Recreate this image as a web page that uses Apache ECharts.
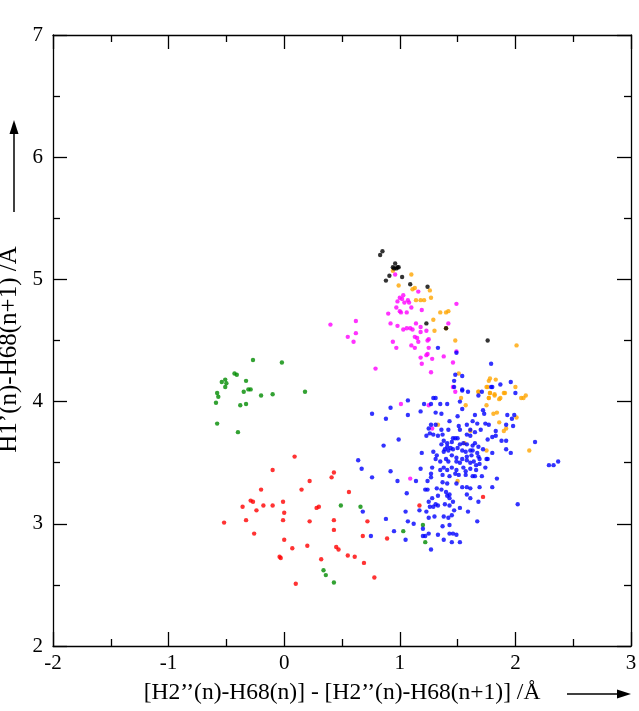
<!DOCTYPE html>
<html><head><meta charset="utf-8">
<script src="https://cdn.jsdelivr.net/npm/echarts@6/dist/echarts.min.js"></script>
<style>html,body{margin:0;padding:0;background:#fff}#c{width:639px;height:711px}</style>
</head><body><div id="c"></div>
<script>
const xTicks = [-2, -1, 0, 1, 2, 3];
const yTicks = [2, 3, 4, 5, 6, 7];
const xName = "[H2\u2019\u2019(n)-H68(n)] - [H2\u2019\u2019(n)-H68(n+1)] /\u00c5";
const yName = "H1\u2019(n)-H68(n+1) /\u00c5";

const redPts = [[0.09,3.55],[-0.10,3.44],[0.43,3.42],[0.41,3.38],[0.22,3.35],[-0.20,3.28],[0.15,3.28],[0.56,3.26],[-0.29,3.19],[-0.27,3.18],[-0.01,3.18],[-0.36,3.14],[-0.18,3.15],[-0.10,3.15],[0.28,3.13],[0.30,3.14],[-0.24,3.11],[0.00,3.09],[-0.33,3.03],[-0.01,3.03],[0.22,3.02],[0.43,3.03],[0.72,3.02],[-0.52,3.01],[0.43,2.95],[-0.26,2.92],[0.68,2.90],[0.89,2.88],[0.00,2.87],[0.20,2.82],[0.07,2.80],[0.45,2.81],[0.47,2.79],[-0.04,2.73],[-0.03,2.72],[0.55,2.74],[0.61,2.73],[0.32,2.71],[0.69,2.68],[0.78,2.56],[0.10,2.51],[1.72,3.22],[1.17,3.15]];

const greenPts = [[-0.27,4.34],[-0.02,4.32],[-0.43,4.23],[-0.41,4.22],[-0.51,4.18],[-0.54,4.16],[-0.33,4.17],[-0.50,4.15],[-0.51,4.12],[-0.35,4.08],[-0.31,4.10],[-0.29,4.10],[-0.58,4.07],[-0.57,4.04],[-0.10,4.06],[-0.20,4.05],[0.18,4.08],[-0.59,3.99],[-0.38,3.97],[-0.33,3.98],[-0.58,3.82],[-0.40,3.75],[0.49,3.15],[0.66,3.14],[0.34,2.62],[0.36,2.58],[0.43,2.52],[1.20,2.99],[1.03,2.94],[1.22,2.85]];

const bluePts = [[1.47,4.17],[1.80,4.12],[1.87,4.14],[1.96,4.16],[1.54,4.09],[1.59,4.08],[2.00,4.07],[1.29,4.03],[1.31,4.03],[1.07,4.01],[1.21,3.98],[1.27,3.98],[1.35,3.98],[1.41,3.98],[1.52,4.00],[1.54,3.94],[1.18,3.92],[1.31,3.91],[1.36,3.90],[1.72,3.93],[1.73,3.90],[0.76,3.90],[0.92,3.95],[1.07,3.89],[0.88,3.86],[1.50,3.88],[1.65,3.89],[1.93,3.89],[1.99,3.89],[1.43,3.84],[1.27,3.81],[1.31,3.81],[1.67,3.82],[1.74,3.82],[1.77,3.81],[1.51,3.80],[1.58,3.81],[1.63,3.84],[1.97,3.86],[1.25,3.78],[1.36,3.77],[1.42,3.77],[1.52,3.77],[1.61,3.77],[1.70,3.77],[1.83,3.76],[1.92,3.81],[1.98,3.80],[0.99,3.69],[0.86,3.64],[1.26,3.74],[1.29,3.73],[1.33,3.72],[1.37,3.73],[1.23,3.72],[1.46,3.70],[1.48,3.70],[1.50,3.70],[1.58,3.73],[1.61,3.72],[1.65,3.75],[1.76,3.69],[1.80,3.71],[1.83,3.72],[1.88,3.68],[1.92,3.68],[2.17,3.67],[1.38,3.68],[1.41,3.66],[1.45,3.67],[1.36,3.65],[1.41,3.63],[1.44,3.62],[1.52,3.65],[1.55,3.66],[1.58,3.65],[1.63,3.64],[1.65,3.66],[1.68,3.63],[1.72,3.61],[1.80,3.58],[1.92,3.61],[1.96,3.58],[1.19,3.58],[1.29,3.59],[1.32,3.56],[1.38,3.59],[1.39,3.61],[1.42,3.60],[1.46,3.61],[1.50,3.62],[1.54,3.60],[1.57,3.59],[1.61,3.60],[1.63,3.60],[1.67,3.58],[1.45,3.56],[1.49,3.54],[1.54,3.53],[1.58,3.55],[1.62,3.56],[1.68,3.55],[1.69,3.53],[1.75,3.53],[1.76,3.53],[1.31,3.53],[1.35,3.51],[1.40,3.53],[1.42,3.51],[1.49,3.51],[1.52,3.50],[1.58,3.52],[1.61,3.50],[1.64,3.51],[1.66,3.48],[1.69,3.49],[1.18,3.45],[1.28,3.46],[1.35,3.44],[1.38,3.46],[1.41,3.44],[1.45,3.46],[1.49,3.44],[1.55,3.46],[1.57,3.43],[1.61,3.45],[1.66,3.44],[1.74,3.46],[0.67,3.45],[0.92,3.43],[2.29,3.48],[2.33,3.48],[2.37,3.51],[1.37,3.40],[1.43,3.39],[1.48,3.41],[1.51,3.40],[1.57,3.40],[1.63,3.39],[1.65,3.39],[1.71,3.39],[1.27,3.41],[1.84,3.37],[0.76,3.38],[0.98,3.35],[1.14,3.35],[1.24,3.35],[1.27,3.38],[1.37,3.34],[1.41,3.33],[1.49,3.33],[1.54,3.30],[1.58,3.30],[1.61,3.29],[1.69,3.30],[1.80,3.30],[1.06,3.25],[1.22,3.28],[1.24,3.28],[1.32,3.29],[1.36,3.28],[1.40,3.26],[1.41,3.23],[1.43,3.21],[1.43,3.24],[1.33,3.23],[1.28,3.21],[1.25,3.18],[1.26,3.14],[1.29,3.14],[1.31,3.16],[1.33,3.15],[1.39,3.16],[1.43,3.15],[1.46,3.18],[1.52,3.13],[1.47,3.11],[1.59,3.10],[1.61,3.21],[1.58,3.24],[1.68,3.18],[2.02,3.16],[1.17,3.11],[1.05,3.10],[1.23,3.10],[1.30,3.06],[1.38,3.06],[1.45,3.07],[1.25,3.05],[1.42,3.05],[0.68,3.10],[0.88,3.04],[1.07,3.02],[1.12,3.00],[1.20,2.96],[1.37,2.98],[1.43,2.99],[1.67,3.02],[0.95,2.94],[1.05,2.87],[1.25,2.92],[1.33,2.91],[1.43,2.92],[1.46,2.92],[1.49,2.91],[1.38,2.87],[1.45,2.85],[1.52,2.85],[1.20,2.90],[1.22,2.90],[0.75,2.90],[1.27,2.79],[0.64,3.52],[1.33,4.44],[1.49,4.40],[1.79,4.31],[1.48,4.22],[1.54,4.21],[1.47,4.12],[1.54,4.10],[1.71,4.08],[1.79,4.12],[1.68,4.05]];

const magentaPts = [[0.96,5.04],[1.16,4.90],[1.03,4.87],[1.00,4.85],[1.02,4.84],[1.07,4.83],[0.98,4.82],[1.04,4.81],[1.08,4.81],[0.97,4.77],[1.10,4.77],[1.19,4.75],[1.00,4.74],[1.01,4.73],[1.06,4.73],[0.90,4.72],[1.49,4.80],[0.62,4.66],[0.40,4.63],[0.92,4.64],[0.98,4.62],[1.14,4.64],[1.18,4.61],[1.06,4.60],[1.03,4.59],[1.09,4.60],[1.11,4.59],[1.18,4.57],[1.23,4.58],[1.42,4.64],[0.62,4.56],[0.55,4.53],[0.60,4.49],[1.13,4.53],[1.15,4.52],[1.16,4.49],[1.25,4.51],[1.24,4.50],[0.94,4.49],[1.10,4.46],[1.13,4.44],[1.25,4.44],[0.97,4.44],[1.24,4.39],[1.23,4.38],[1.38,4.37],[1.18,4.36],[1.28,4.35],[1.19,4.31],[1.46,4.32],[0.79,4.27],[1.27,4.24],[1.49,4.41],[1.46,4.12],[1.48,4.08],[1.01,3.98],[1.25,3.97],[1.28,3.78],[1.09,3.37]];

const orangePts = [[0.94,5.07],[1.10,5.04],[0.99,4.95],[1.11,4.92],[1.13,4.93],[1.26,4.91],[1.14,4.83],[1.18,4.83],[1.21,4.83],[1.27,4.85],[1.35,4.73],[1.40,4.73],[1.42,4.74],[1.29,4.67],[1.30,4.58],[1.40,4.60],[1.48,4.50],[2.01,4.46],[1.51,4.23],[1.78,4.19],[1.83,4.18],[1.77,4.17],[1.75,4.12],[2.00,4.12],[1.68,4.08],[1.78,4.07],[1.82,4.05],[1.91,4.07],[1.53,4.03],[1.77,4.03],[1.87,4.03],[2.05,4.03],[2.09,4.05],[1.76,4.12],[1.68,4.08],[1.78,4.07],[1.82,4.06],[1.90,4.07],[1.77,4.03],[1.86,4.02],[2.07,4.03],[1.57,3.97],[1.75,3.97],[1.81,3.90],[1.84,3.91],[2.01,3.87],[1.86,3.83],[1.33,3.81],[1.92,3.78],[1.90,3.76],[1.61,3.76],[1.56,3.66],[1.75,3.60],[2.12,3.60],[1.50,3.35]];

const blackPts = [[0.83,5.20],[0.85,5.23],[0.94,5.10],[0.96,5.13],[0.95,5.09],[0.97,5.09],[0.99,5.10],[0.98,5.10],[0.91,5.03],[0.88,4.99],[1.02,5.02],[1.09,4.96],[1.24,4.94],[1.23,4.64],[1.40,4.60],[1.76,4.50]];

const chart = echarts.init(document.getElementById('c'));
const font = '"Liberation Serif","Times New Roman",serif';
const axisBase = {
  type: 'value', interval: 1,
  axisLine: { show: true, onZero: false, lineStyle: { color: '#000', width: 1.3 } },
  axisTick: { show: true, inside: true, length: 14, lineStyle: { color: '#000', width: 1.3 } },
  minorTick: { show: true, splitNumber: 2, length: 7, lineStyle: { color: '#000', width: 1.3 } },
  splitLine: { show: false },
  minorSplitLine: { show: false }
};
function mk(color, data, z) {
  return { type: 'scatter', data: data, symbol: 'circle', symbolSize: 4.4,
    itemStyle: { color: color }, z: z, silent: true, xAxisIndex: 0, yAxisIndex: 0 };
}
chart.setOption({
  animation: false,
  backgroundColor: '#fff',
  grid: { left: 53, right: 8, top: 35, bottom: 65, containLabel: false, outerBoundsMode: 'none' },
  xAxis: [
    Object.assign({}, axisBase, { min: xTicks[0], max: xTicks[xTicks.length-1], position: 'bottom',
      axisLabel: { show: true, color: '#000', fontFamily: font, fontSize: 21, margin: 7 },
      name: xName, nameLocation: 'middle', nameGap: 35,
      nameTextStyle: { color: '#000', fontFamily: font, fontSize: 23.5 } }),
    Object.assign({}, axisBase, { min: xTicks[0], max: xTicks[xTicks.length-1], position: 'top',
      axisLabel: { show: false } })
  ],
  yAxis: [
    Object.assign({}, axisBase, { min: yTicks[0], max: yTicks[yTicks.length-1], position: 'left',
      axisLabel: { show: true, color: '#000', fontFamily: font, fontSize: 21, margin: 10 },
      name: yName, nameLocation: 'middle', nameGap: 25, nameRotate: 90,
      nameTextStyle: { color: '#000', fontFamily: font, fontSize: 25, padding: [0, 18, 0, 0] } }),
    Object.assign({}, axisBase, { min: yTicks[0], max: yTicks[yTicks.length-1], position: 'right',
      axisLabel: { show: false } })
  ],
  graphic: [
    { type: 'line', shape: { x1: 567, y1: 694, x2: 624, y2: 694 }, style: { stroke: '#000', lineWidth: 1.5 } },
    { type: 'polygon', shape: { points: [[631, 694], [617, 689.5], [617, 698.5]] }, style: { fill: '#000' } },
    { type: 'line', shape: { x1: 14, y1: 212, x2: 14, y2: 128 }, style: { stroke: '#000', lineWidth: 1.5 } },
    { type: 'polygon', shape: { points: [[14, 120], [9.5, 134], [18.5, 134]] }, style: { fill: '#000' } }
  ],
  series: [
    mk('#ff0000', redPts, 2),
    mk('#008b00', greenPts, 3),
    mk('#ffa500', orangePts, 4),
    mk('#ff00ff', magentaPts, 5),
    mk('#0000ff', bluePts, 6),
    mk('#000000', blackPts, 7)
  ]
});
</script></body></html>
